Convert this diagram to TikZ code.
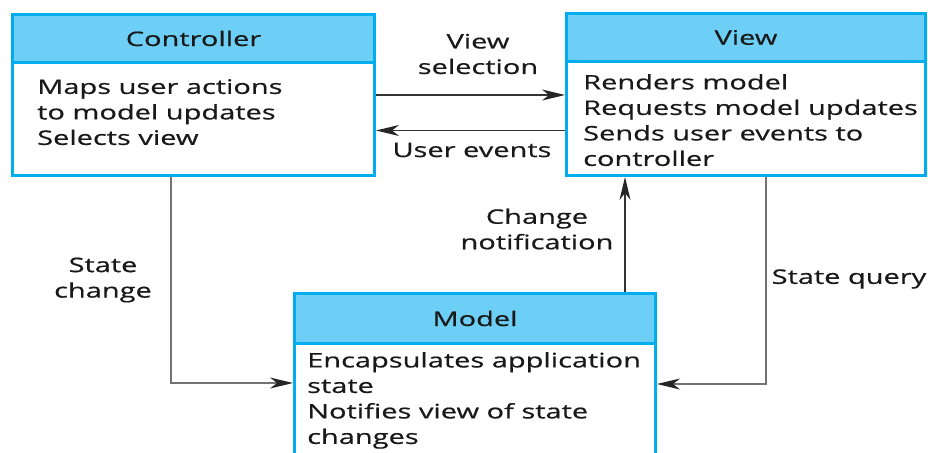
\documentclass[tikz,border=0pt]{standalone}
\usepackage{fontspec}
\setmainfont{Open Sans}[FakeStretch=1.45, FakeBold=0.6]
\usetikzlibrary{arrows.meta}
\definecolor{boxline}{RGB}{0,174,239}
\definecolor{boxhead}{RGB}{109,207,246}
\def\fsize{\fontsize{20}{25.5}\selectfont}

\begin{document}
\begin{tikzpicture}[x=1pt, y=-1pt,
  box/.style={draw=boxline, line width=3pt, fill=white, inner sep=0pt, anchor=north west},
  head/.style={draw=boxline, line width=3pt, fill=boxhead, inner sep=0pt, anchor=north west, font=\fsize, text=black!90},
  body/.style={anchor=north west, align=left, inner sep=0pt, font=\fsize, text=black!90},
  lbl/.style={align=center, inner sep=0pt, font=\fsize, text=black!90},
  link/.style={draw=black!80, line width=1.4pt, -{Stealth[length=23pt, width=11pt, inset=7pt, color=black!85]}},
  qlink/.style={link, draw=black!55}]
      \useasboundingbox (0,0) rectangle (928,452);
      \node[box, minimum width=362pt, minimum height=161pt] (ctrl) at (11,13) {};
      \node[head, minimum width=362pt, minimum height=48pt] (ctrlhead) at (11,13) {Controller};
      \node[body] (ctrltext) at (37,79) {Maps user actions\\to model updates\\Selects view};
      \node[box, minimum width=359pt, minimum height=162pt] (view) at (565,12) {};
      \node[head, minimum width=359pt, minimum height=48pt] (viewhead) at (565,12) {View};
      \node[body] (viewtext) at (583,74) {Renders model\\Requests model updates\\Sends user events to\\controller};
      \node[box, minimum width=361pt, minimum height=200pt] (model) at (293,292) {};
      \node[head, minimum width=361pt, minimum height=50pt] (modelhead) at (293,292) {Model};
      \node[body] (modeltext) at (307,352) {Encapsulates application\\state\\Notifies view of state\\changes};
      \node[lbl] (vsel) at (478,54) {View\\selection};
      \node[lbl] (uev) at (472,150) {User events};
      \node[lbl] (cnot) at (537,229) {Change\\notification};
      \node[lbl] (schg) at (103,280) {State\\change};
      \node[lbl] (sqry) at (849,279) {State query};
      \coordinate (ue) at ([yshift=-36pt]view.west);
      \coordinate (cn) at ([xshift=-32pt]model.north east);
      \coordinate (sq) at ([xshift=-161pt]view.south east);
      \coordinate (sqm) at ([yshift=-92pt]model.north east);
      \coordinate (sc) at ([xshift=160pt]ctrl.south west);
      \coordinate (scm) at ([yshift=-91pt]model.north west);
      \draw[link] (ctrl.east) -- (ctrl.east -| view.west);
      \draw[link] (ue) -- (ue -| ctrl.east);
      \draw[link] (cn) -- (cn |- view.south);
      \draw[qlink] (sq) |- (sqm);
      \draw[qlink] (sc) |- (scm);
    \end{tikzpicture}
\end{document}
